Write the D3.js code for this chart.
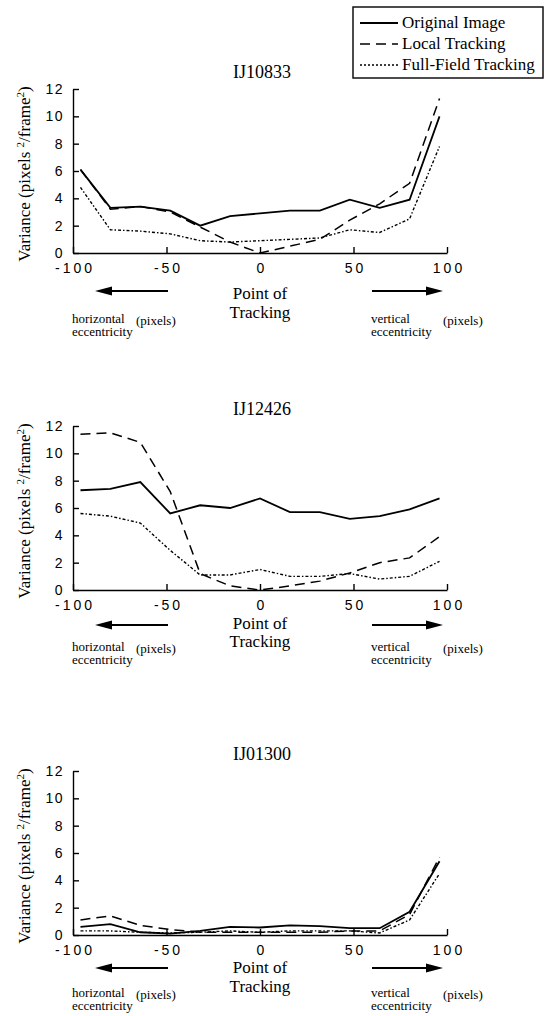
<!DOCTYPE html>
<html>
<head>
<meta charset="utf-8">
<script src="https://cdn.jsdelivr.net/npm/d3@7"></script>
<style>
  body { margin: 0; background: #fff; }
  .tick text { font-family: "Liberation Sans", Arial, sans-serif; font-size: 14px; fill: #000; }
  .serif { font-family: "Liberation Serif", "Times New Roman", serif; fill: #000; }
</style>
</head>
<body>
<svg class="figure" width="549" height="1016"></svg>
<script>
// point of tracking (pixels), same for every panel
var trackPoints = [-96, -80, -64, -48, -32, -16, 0, 16, 32, 48, 64, 80, 96];
var xTicks = [-100, -50, 0, 50, 100];
var yTicks = [0, 2, 4, 6, 8, 10, 12];
var seriesNames = ["Original Image", "Local Tracking", "Full-Field Tracking"];
var panelNames = ["IJ10833", "IJ12426", "IJ01300"];

var ij10833Original = [6.1, 3.3, 3.4, 3.1, 2.0, 2.7, 2.9, 3.1, 3.1, 3.9, 3.3, 3.9, 10.0];
var ij10833Local    = [6.1, 3.2, 3.4, 3.0, 1.9, 0.8, 0.0, 0.5, 1.0, 2.4, 3.6, 5.1, 11.3];
var ij10833Full     = [4.8, 1.7, 1.6, 1.4, 0.9, 0.8, 0.9, 1.0, 1.1, 1.7, 1.5, 2.5, 7.8];

var ij12426Original = [7.3, 7.4, 7.9, 5.6, 6.2, 6.0, 6.7, 5.7, 5.7, 5.2, 5.4, 5.9, 6.7];
var ij12426Local    = [11.4, 11.5, 10.8, 7.2, 1.2, 0.3, 0.0, 0.3, 0.65, 1.25, 2.0, 2.35, 3.9];
var ij12426Full     = [5.6, 5.4, 4.9, 2.9, 1.1, 1.1, 1.5, 1.0, 1.0, 1.2, 0.8, 1.0, 2.1];

var ij01300Original = [0.6, 0.8, 0.2, 0.1, 0.3, 0.6, 0.55, 0.7, 0.65, 0.5, 0.5, 1.7, 5.4];
var ij01300Local    = [1.1, 1.4, 0.7, 0.4, 0.2, 0.2, 0.2, 0.2, 0.2, 0.3, 0.3, 1.5, 5.7];
var ij01300Full     = [0.3, 0.3, 0.2, 0.15, 0.2, 0.3, 0.2, 0.3, 0.3, 0.3, 0.15, 1.1, 4.5];

var panelSeries = [
    [ij10833Original, ij10833Local, ij10833Full],
    [ij12426Original, ij12426Local, ij12426Full],
    [ij01300Original, ij01300Local, ij01300Full]
];

var svg = d3.select("svg.figure");
var dashes = [null, "10,6", "3,2,1.5,2"];
var widths = [1.8, 1.5, 1.4];
var axisBottoms = [253, 590, 935];
var plotHeight = 164;
// offsets below the x axis: arrows, "Point of", "Tracking", horizontal/vertical line
var notes = [
    {arrow: 38, point: 46, track: 65, hor: 70},
    {arrow: 35, point: 39, track: 57, hor: 61},
    {arrow: 33, point: 38, track: 57, hor: 62}
];

var x = d3.scaleLinear().domain([-100, 100]).range([73, 447]);

function drawPanel(p) {
    var bottom = axisBottoms[p];
    var y = d3.scaleLinear().domain([0, 12]).range([bottom, bottom - plotHeight]);
    var g = svg.append("g");
    var n = notes[p];

    g.append("text")
        .attr("class", "serif")
        .attr("x", 262).attr("y", bottom - 175)
        .attr("text-anchor", "middle")
        .style("font-size", "18px")
        .text(panelNames[p]);

    g.append("g")
        .attr("transform", "translate(" + x(-100) + ",0)")
        .call(d3.axisLeft(y).tickValues(yTicks).tickSizeInner(-6).tickSizeOuter(0).tickPadding(9))
        .call(function(a) {
            a.selectAll("path, line").attr("stroke", "#000").attr("stroke-width", 1.4);
            a.selectAll("text").style("letter-spacing", "1.5px");
        });

    g.append("g")
        .attr("transform", "translate(0," + y(0) + ")")
        .call(d3.axisBottom(x).tickValues(xTicks).tickFormat(function(d) { return String(d); })
            .tickSizeInner(-6).tickSizeOuter(0).tickPadding(10))
        .call(function(a) {
            a.selectAll("path, line").attr("stroke", "#000").attr("stroke-width", 1.4);
            a.selectAll("text").style("letter-spacing", "3px").attr("dx", "1.5");
        });

    var lbl = g.append("text")
        .attr("class", "serif")
        .attr("transform", "translate(30," + (bottom - plotHeight / 2 + 3) + ") rotate(-90)")
        .attr("text-anchor", "middle")
        .style("font-size", "17px");
    lbl.append("tspan").text("Variance (pixels ");
    lbl.append("tspan").attr("dy", -6).style("font-size", "11px").text("2");
    lbl.append("tspan").attr("dy", 6).text("/frame");
    lbl.append("tspan").attr("dy", -6).style("font-size", "11px").text("2");
    lbl.append("tspan").attr("dy", 6).text(")");

    var line = d3.line()
        .x(function(d, i) { return x(trackPoints[i]); })
        .y(function(d) { return y(d); });

    panelSeries[p].forEach(function(vals, i) {
        g.append("path")
            .datum(vals)
            .attr("fill", "none")
            .attr("stroke", "#000")
            .attr("stroke-width", widths[i])
            .attr("stroke-dasharray", dashes[i])
            .attr("d", line);
    });

    // annotations under the axis
    var pt = g.append("text").attr("class", "serif").attr("text-anchor", "middle").style("font-size", "17px");
    pt.append("tspan").attr("x", 260).attr("y", bottom + n.point).text("Point of");
    pt.append("tspan").attr("x", 260).attr("y", bottom + n.track).text("Tracking");

    arrow(g, 168, 95, bottom + n.arrow);
    arrow(g, 372, 443, bottom + n.arrow);

    var sm = function(tx, ty, s) {
        g.append("text").attr("class", "serif").attr("x", tx).attr("y", ty)
            .style("font-size", "13px").text(s);
    };
    sm(72, bottom + n.hor, "horizontal");
    sm(136, bottom + n.hor + 2, "(pixels)");
    sm(72, bottom + n.hor + 13, "eccentricity");
    sm(371, bottom + n.hor, "vertical");
    sm(443, bottom + n.hor + 2, "(pixels)");
    sm(371, bottom + n.hor + 13, "eccentricity");
}

function arrow(g, x1, x2, yy) {
    var dir = x2 > x1 ? 1 : -1;
    g.append("line")
        .attr("x1", x1).attr("x2", x2 - dir * 10)
        .attr("y1", yy).attr("y2", yy)
        .attr("stroke", "#000").attr("stroke-width", 2);
    g.append("path")
        .attr("d", "M" + x2 + "," + yy + "L" + (x2 - dir * 17) + "," + (yy - 4.5) + "L" + (x2 - dir * 17) + "," + (yy + 4.5) + "Z")
        .attr("fill", "#000");
}

panelNames.forEach(function(n, p) { drawPanel(p); });

// legend
var lg = svg.append("g");
lg.append("rect")
    .attr("x", 353).attr("y", 7).attr("width", 190).attr("height", 71)
    .attr("fill", "none").attr("stroke", "#000").attr("stroke-width", 1.4);
seriesNames.forEach(function(s, i) {
    var yy = 23 + i * 21;
    lg.append("line")
        .attr("x1", 360).attr("x2", 398).attr("y1", yy).attr("y2", yy)
        .attr("stroke", "#000").attr("stroke-width", widths[i])
        .attr("stroke-dasharray", i === 2 ? "2,2" : dashes[i]);
    lg.append("text").attr("class", "serif")
        .attr("x", 402).attr("y", yy + 5)
        .style("font-size", "17px").text(s);
});
</script>
</body>
</html>
